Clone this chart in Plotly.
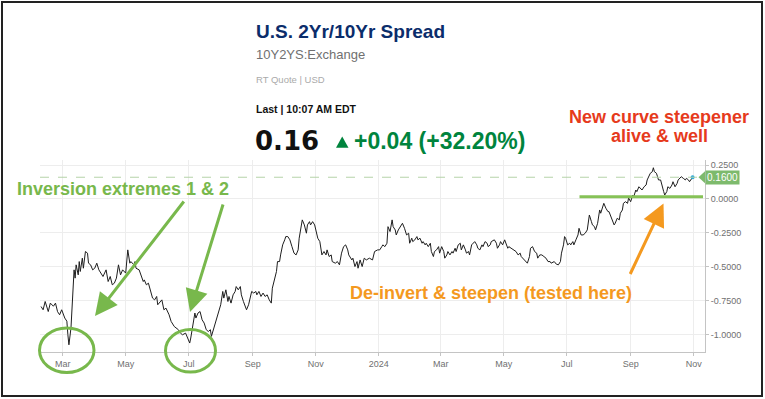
import pandas as pd
import plotly.graph_objects as go

# ---------------- data ----------------
START_DATE = "2023-02-07"
days_from_start = [
    1, 3, 5, 8, 10, 13, 15, 17, 19, 21,
    24, 26, 27, 28, 30, 31, 33, 34, 35, 37,
    38, 39, 41, 42, 44, 46, 47, 49, 51, 53,
    55, 57, 59, 61, 64, 66, 68, 70, 72, 74,
    76, 78, 80, 83, 85, 87, 88, 91, 92, 93,
    96, 98, 100, 101, 103, 105, 107, 109, 111, 113,
    114, 117, 118, 120, 122, 125, 127, 130, 134, 136,
    138, 141, 143, 145, 146, 148, 150, 151, 153, 155,
    157, 159, 161, 163, 165, 166, 168, 170, 173, 175,
    177, 178, 180, 182, 183, 185, 187, 189, 190, 192,
    194, 195, 197, 199, 200, 202, 203, 205, 207, 209,
    210, 212, 214, 216, 218, 220, 222, 224, 225, 227,
    229, 230, 232, 233, 235, 237, 238, 240, 242, 244,
    246, 248, 250, 251, 253, 254, 256, 258, 259, 261,
    262, 264, 266, 268, 269, 271, 272, 273, 275, 277,
    278, 280, 282, 283, 286, 288, 290, 292, 294, 296,
    298, 299, 302, 303, 305, 307, 308, 310, 312, 314,
    316, 319, 322, 324, 327, 329, 331, 332, 334, 336,
    337, 339, 341, 342, 344, 345, 347, 349, 351, 353,
    355, 357, 358, 360, 361, 363, 365, 366, 368, 370,
    371, 373, 374, 376, 378, 379, 381, 382, 384, 386,
    387, 389, 391, 392, 394, 395, 397, 399, 400, 402,
    403, 405, 407, 408, 410, 412, 413, 415, 416, 418,
    420, 421, 423, 424, 426, 428, 429, 431, 433, 434,
    436, 437, 440, 442, 443, 445, 446, 448, 450, 451,
    453, 454, 456, 458, 461, 463, 465, 466, 469, 471,
    472, 474, 475, 477, 479, 481, 482, 484, 486, 488,
    490, 492, 494, 495, 498, 500, 502, 504, 505, 507,
    508, 509, 511, 513, 514, 516, 517, 519, 521, 522,
    524, 526, 528, 530, 532, 534, 535, 537, 538, 540,
    542, 543, 545, 546, 548, 550, 551, 553, 555, 556,
    557, 559, 561, 562, 564, 565, 567, 569, 570, 572,
    574, 575, 577, 578, 580, 582, 583, 585, 587, 588,
    590, 591, 593, 594, 595, 597, 598, 599, 601, 602,
    604, 605, 607, 608, 610, 612, 613, 615, 617, 618,
    620, 621, 623, 625, 626, 628, 629, 631, 632,
]
spread = [
    -0.792, -0.816, -0.755, -0.829, -0.767, -0.790, -0.767, -0.830, -0.853, -0.816,
    -0.877, -0.900, -1.000, -1.074, -0.950, -0.800, -0.522, -0.583, -0.485, -0.559,
    -0.461, -0.534, -0.436, -0.510, -0.387, -0.399, -0.473, -0.485, -0.522, -0.510,
    -0.473, -0.522, -0.546, -0.571, -0.522, -0.608, -0.571, -0.632, -0.620, -0.583,
    -0.485, -0.559, -0.522, -0.546, -0.375, -0.473, -0.461, -0.485, -0.461, -0.510,
    -0.522, -0.571, -0.608, -0.596, -0.632, -0.620, -0.681, -0.730, -0.743, -0.718,
    -0.779, -0.755, -0.743, -0.816, -0.804, -0.853, -0.902, -0.939, -0.963, -0.988,
    -1.000, -0.988, -1.024, -1.061, -1.024, -0.926, -0.840, -0.877, -0.840, -0.829,
    -0.890, -0.914, -0.963, -0.976, -0.963, -1.012, -0.963, -0.902, -0.840, -0.779,
    -0.681, -0.730, -0.669, -0.755, -0.718, -0.767, -0.706, -0.681, -0.645, -0.669,
    -0.645, -0.706, -0.755, -0.792, -0.816, -0.779, -0.743, -0.681, -0.693, -0.681,
    -0.706, -0.681, -0.718, -0.693, -0.718, -0.706, -0.743, -0.767, -0.657, -0.583,
    -0.534, -0.461, -0.461, -0.412, -0.338, -0.301, -0.277, -0.277, -0.301, -0.351,
    -0.399, -0.412, -0.375, -0.289, -0.191, -0.154, -0.191, -0.252, -0.191, -0.167,
    -0.191, -0.167, -0.191, -0.265, -0.289, -0.314, -0.375, -0.412, -0.387, -0.412,
    -0.375, -0.424, -0.412, -0.461, -0.473, -0.461, -0.485, -0.399, -0.351, -0.338,
    -0.375, -0.412, -0.449, -0.436, -0.498, -0.461, -0.510, -0.449, -0.498, -0.436,
    -0.449, -0.436, -0.449, -0.387, -0.375, -0.375, -0.351, -0.338, -0.351, -0.326,
    -0.204, -0.240, -0.154, -0.204, -0.228, -0.265, -0.228, -0.204, -0.179, -0.216,
    -0.265, -0.252, -0.326, -0.289, -0.314, -0.301, -0.277, -0.301, -0.289, -0.326,
    -0.314, -0.338, -0.326, -0.351, -0.326, -0.387, -0.424, -0.387, -0.375, -0.351,
    -0.399, -0.351, -0.387, -0.436, -0.412, -0.387, -0.412, -0.387, -0.399, -0.363,
    -0.387, -0.338, -0.326, -0.375, -0.338, -0.375, -0.399, -0.387, -0.412, -0.338,
    -0.326, -0.314, -0.338, -0.363, -0.375, -0.338, -0.351, -0.314, -0.326, -0.351,
    -0.338, -0.314, -0.301, -0.326, -0.363, -0.338, -0.314, -0.338, -0.301, -0.326,
    -0.363, -0.351, -0.363, -0.375, -0.387, -0.412, -0.399, -0.424, -0.449, -0.461,
    -0.473, -0.424, -0.363, -0.351, -0.387, -0.399, -0.436, -0.412, -0.412, -0.424,
    -0.436, -0.461, -0.461, -0.473, -0.461, -0.480, -0.485, -0.461, -0.399, -0.338,
    -0.277, -0.289, -0.338, -0.326, -0.338, -0.314, -0.338, -0.301, -0.265, -0.216,
    -0.265, -0.265, -0.252, -0.228, -0.118, -0.167, -0.191, -0.204, -0.228, -0.179,
    -0.081, -0.105, -0.044, -0.032, -0.068, -0.093, -0.093, -0.130, -0.167, -0.191,
    -0.179, -0.142, -0.154, -0.105, -0.081, -0.032, -0.020, -0.032, 0.007, -0.020,
    0.029, 0.017, 0.066, 0.054, 0.090, 0.078, 0.066, 0.090, 0.103, 0.140,
    0.176, 0.189, 0.201, 0.230, 0.201, 0.189, 0.164, 0.140, 0.140, 0.103,
    0.054, 0.029, 0.054, 0.090, 0.078, 0.103, 0.127, 0.090, 0.115, 0.140,
    0.152, 0.164, 0.152, 0.140, 0.152, 0.140, 0.127, 0.147, 0.160,
]
assert len(days_from_start) == len(spread)

x_tick_dates = ["2023-03-01", "2023-05-01", "2023-07-01", "2023-09-01", "2023-11-01",
                "2024-01-01", "2024-03-01", "2024-05-01", "2024-07-01", "2024-09-01",
                "2024-11-01"]
x_tick_labels = ["Mar", "May", "Jul", "Sep", "Nov", "2024", "Mar", "May", "Jul", "Sep", "Nov"]
y_tick_values = [0.25, 0.0, -0.25, -0.5, -0.75, -1.0]
y_tick_labels = ["0.2500", "0.0000", "-0.2500", "-0.5000", "-0.7500", "-1.0000"]

last_value = spread[-1]
change_text = "+0.04 (+32.20%)"

# ---------------- build figure ----------------
dates = pd.to_datetime(START_DATE) + pd.to_timedelta(days_from_start, unit="D")

FONT = "Liberation Sans, Arial, sans-serif"
GREEN = "#78b84c"
ORANGE = "#f4991f"
RED = "#e63a1c"

fig = go.Figure()
fig.add_trace(go.Scatter(x=dates, y=spread, mode="lines",
                         line=dict(color="#1e1e1e", width=1), hoverinfo="skip"))
fig.add_trace(go.Scatter(x=[dates[-1]], y=[spread[-1]], mode="markers",
                         marker=dict(color="#2aa7d8", size=4), hoverinfo="skip"))

W, H = 765, 399
L, R, T, B = 40, 60, 160, 47
pw, ph = W - L - R, H - T - B


def px(xp):
    return (xp - L) / pw


def py(yp):
    return (H - B - yp) / ph


shapes = []
# dashed line at last value
shapes.append(dict(type="line", xref="paper", yref="y", x0=0, x1=1,
                   y0=last_value, y1=last_value,
                   line=dict(color="#b5d3a8", width=1, dash="dash")))
# outer frame
shapes.append(dict(type="rect", xref="paper", yref="paper",
                   x0=px(2), x1=px(762), y0=py(2), y1=py(396),
                   line=dict(color="#222222", width=2)))
# green circles
shapes.append(dict(type="circle", xref="paper", yref="paper",
                   x0=px(39.5), x1=px(94), y0=py(328), y1=py(372.5),
                   line=dict(color=GREEN, width=3)))
shapes.append(dict(type="circle", xref="paper", yref="paper",
                   x0=px(165.5), x1=px(215.5), y0=py(329.5), y1=py(372),
                   line=dict(color=GREEN, width=3)))
# green horizontal test line
shapes.append(dict(type="line", xref="paper", yref="paper",
                   x0=px(579.5), x1=px(703), y0=py(196.8), y1=py(196.8),
                   line=dict(color="#86c257", width=3)))
# triangle of price tag
shapes.append(dict(type="path", xref="paper", yref="paper",
                   path=f"M {px(698.5)} {py(177.2)} L {px(705)} {py(171.2)} L {px(705)} {py(183.2)} Z",
                   fillcolor="#7dba6c", line=dict(width=0)))
# up triangle in header
shapes.append(dict(type="path", xref="paper", yref="paper",
                   path=f"M {px(336)} {py(147.7)} L {px(348.5)} {py(147.7)} L {px(342.2)} {py(136.5)} Z",
                   fillcolor="#00843d", line=dict(width=0)))

ann = []


def text(x, y, s, size, color, bold=False, family=FONT, xanchor="left"):
    ann.append(dict(xref="paper", yref="paper", x=px(x), y=py(y), text=(f"<b>{s}</b>" if bold else s),
                    showarrow=False, xanchor=xanchor, yanchor="middle",
                    font=dict(size=size, color=color, family=family)))


# header
text(254, 31.5, "U.S. 2Yr/10Yr Spread", 19, "#0b2d6b", bold=True)
text(254, 54, "10Y2YS:Exchange", 13, "#707070")
text(254, 79.5, "RT Quote | USD", 9.5, "#aaaaaa")
text(254, 109, "Last | 10:07 AM EDT", 10.5, "#111111", bold=True)
text(253, 141, f"{last_value:.2f}", 26, "#111111", bold=True, family="DejaVu Sans, sans-serif")
text(351.5, 141, change_text, 23, "#00843d", bold=True)

# annotations
text(123, 189, "Inversion extremes 1 &amp; 2", 18, GREEN, bold=True, xanchor="center")
text(659, 116.5, "New curve steepener", 18, RED, bold=True, xanchor="center")
text(659, 136, "alive &amp; well", 18, RED, bold=True, xanchor="center")
text(491, 293, "De-invert &amp; steepen (tested here)", 18, ORANGE, bold=True, xanchor="center")

# price tag label
ann.append(dict(xref="paper", yref="y", x=px(705), y=last_value, text=f"{last_value:.4f}",
                showarrow=False, xanchor="left", yanchor="middle", bgcolor="#7dba6c",
                borderpad=1, font=dict(size=10, color="white", family=FONT)))


def arrow(tail, tip, color):
    ann.append(dict(xref="paper", yref="paper", x=px(tip[0]), y=py(tip[1]), text="",
                    showarrow=True, ax=tail[0] - tip[0], ay=tail[1] - tip[1],
                    arrowhead=2, arrowsize=1.5, arrowwidth=3, arrowcolor=color, standoff=0))


arrow((185, 200), (95, 316), GREEN)
arrow((223.5, 203), (190, 312), GREEN)
arrow((629.5, 275.5), (663.5, 203.5), ORANGE)

fig.update_layout(
    width=W, height=H,
    margin=dict(l=L, r=R, t=T, b=B),
    paper_bgcolor="white", plot_bgcolor="white",
    showlegend=False,
    font=dict(family=FONT, size=9, color="#707070"),
    shapes=shapes, annotations=ann,
    xaxis=dict(type="date", range=["2023-02-07", "2024-11-12"],
               tickvals=x_tick_dates, ticktext=x_tick_labels,
               showgrid=True, gridcolor="#ededed", gridwidth=1,
               showline=True, linecolor="#c4c4c4", linewidth=1,
               ticks="outside", ticklen=3, tickcolor="#c4c4c4",
               tickfont=dict(size=9, color="#707070"), zeroline=False),
    yaxis=dict(side="right", range=[-1.127, 0.287],
               tickvals=y_tick_values, ticktext=y_tick_labels,
               showgrid=True, gridcolor="#ededed", gridwidth=1,
               showline=True, linecolor="#c4c4c4", linewidth=1,
               ticks="outside", ticklen=3, tickcolor="#c4c4c4",
               tickfont=dict(size=9, color="#707070"), zeroline=False),
)

# remove the browser's default 8px body margin so the figure sits at the page origin
fig.write_html("out.html",
               config={"displayModeBar": False},
               post_script="document.body.style.margin='0';document.body.style.overflow='hidden';")
